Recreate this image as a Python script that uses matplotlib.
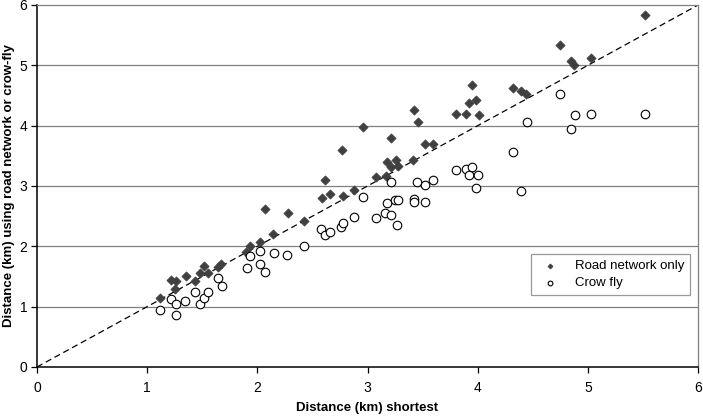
import matplotlib
matplotlib.use("Agg")
import matplotlib.pyplot as plt

plt.rcParams['font.family'] = ['Liberation Sans', 'DejaVu Sans']

road_x = [1.12, 1.22, 1.26, 1.35, 1.25, 1.43, 1.48, 1.52, 1.55, 1.64, 1.67,
          1.90, 1.93, 2.02, 2.07, 2.14, 2.28, 2.42, 2.59, 2.61, 2.66, 2.78, 2.77, 2.88, 3.08,
          2.96, 3.17, 3.18, 3.21, 3.21, 3.26, 3.28, 3.41, 3.42, 3.46, 3.52, 3.59,
          3.80, 3.89, 3.92, 3.95, 3.98, 4.01, 4.32, 4.39, 4.44,
          4.75, 4.85, 4.87, 5.03, 5.52]
road_y = [1.15, 1.45, 1.43, 1.51, 1.29, 1.43, 1.55, 1.68, 1.56, 1.66, 1.70,
          1.91, 2.00, 2.07, 2.62, 2.20, 2.55, 2.42, 2.80, 3.10, 2.86, 2.84, 3.60, 2.94, 3.15,
          3.97, 3.17, 3.40, 3.79, 3.31, 3.43, 3.33, 3.43, 4.26, 4.06, 3.69, 3.70,
          4.20, 4.20, 4.38, 4.67, 4.43, 4.17, 4.62, 4.57, 4.53,
          5.33, 5.07, 5.00, 5.12, 5.83]

crow_x = [1.12, 1.22, 1.26, 1.26, 1.34, 1.43, 1.48, 1.52, 1.55, 1.64, 1.68,
          1.91, 1.93, 2.02, 2.02, 2.07, 2.15, 2.27, 2.42, 2.58, 2.61, 2.66, 2.76, 2.78, 2.88, 2.96, 3.08,
          3.16, 3.18, 3.21, 3.21, 3.25, 3.28, 3.27, 3.42, 3.42, 3.45, 3.52, 3.52, 3.59,
          3.80, 3.89, 3.92, 3.95, 3.98, 4.00, 4.32, 4.39, 4.45,
          4.75, 4.88, 4.85, 5.03, 5.52]
crow_y = [0.94, 1.13, 1.05, 0.87, 1.10, 1.25, 1.04, 1.14, 1.25, 1.48, 1.34,
          1.64, 1.84, 1.92, 1.70, 1.57, 1.89, 1.85, 2.01, 2.29, 2.19, 2.24, 2.32, 2.38, 2.48, 2.82, 2.47,
          2.55, 2.71, 3.07, 2.52, 2.77, 2.77, 2.36, 2.78, 2.74, 3.06, 3.02, 2.74, 3.10,
          3.26, 3.28, 3.19, 3.31, 2.96, 3.19, 3.57, 2.92, 4.06,
          4.52, 4.17, 3.94, 4.19, 4.19]

ticks = [0, 1, 2, 3, 4, 5, 6]
xlabel = "Distance (km) shortest"
ylabel = "Distance (km) using road network or crow-fly"

fig = plt.figure(figsize=(7.03, 4.16), dpi=100)
ax = fig.add_axes([0.0526, 0.1178, 0.9404, 0.8702])

for t in ticks[1:-1]:
    ax.axhline(t, color='#808080', lw=0.9, zorder=1)

ax.plot([0, 6], [0, 6], color='black', lw=0.9, dashes=(5, 3), zorder=2)

ax.scatter(road_x, road_y, marker='D', s=22, color='#404040', edgecolor='#404040',
           linewidths=0.5, zorder=3, label='Road network only')
ax.scatter(crow_x, crow_y, marker='o', s=38, facecolor='white', edgecolor='black',
           linewidths=0.8, zorder=3, label='Crow fly')

ax.set_xlim(0, 6)
ax.set_ylim(0, 6)
ax.set_xticks(ticks)
ax.set_yticks(ticks)
ax.tick_params(axis='both', direction='out', length=4, width=0.9, labelsize=10, colors='black')
ax.tick_params(axis='x', pad=6)
ax.tick_params(axis='y', pad=3)

for s in ['top', 'right']:
    ax.spines[s].set_color('#808080')
    ax.spines[s].set_linewidth(0.9)
for s in ['left', 'bottom']:
    ax.spines[s].set_color('black')
    ax.spines[s].set_linewidth(1.1)

ax.set_xlabel(xlabel, fontsize=9.5, fontweight='bold', labelpad=5)
ax.set_ylabel(ylabel, fontsize=9.5, fontweight='bold', labelpad=3)

leg = ax.legend(loc='lower right', bbox_to_anchor=(0.988, 0.199), borderaxespad=0,
                frameon=True, fancybox=False, edgecolor='#808080', fontsize=9.5,
                markerscale=0.55, handletextpad=0.9, handlelength=2.0,
                borderpad=0.45, labelspacing=0.35)
leg.get_frame().set_linewidth(0.9)

fig.savefig('out.png', dpi=100)
